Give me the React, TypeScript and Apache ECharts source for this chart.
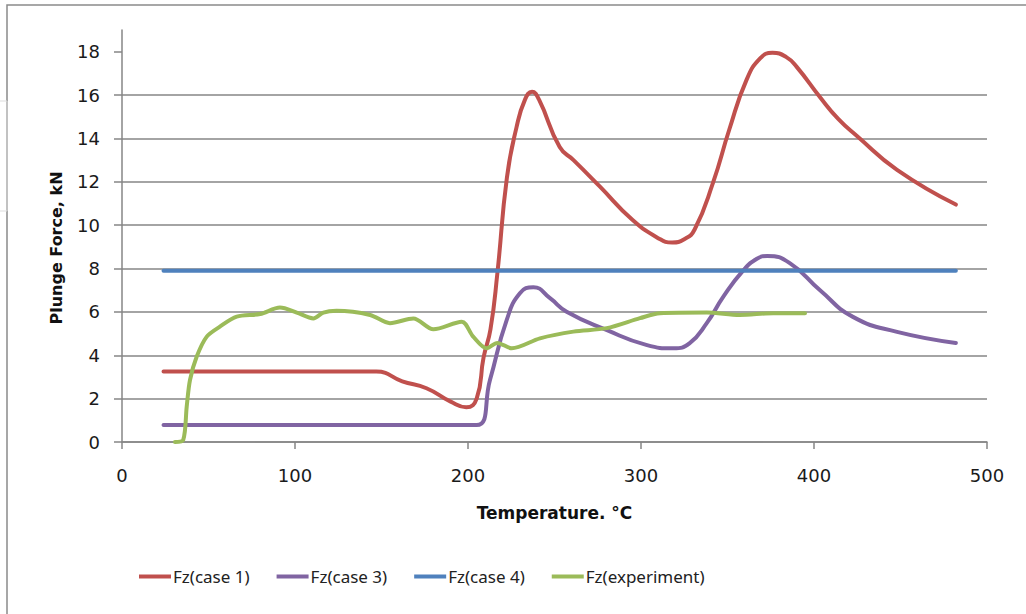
import React, { useEffect, useRef } from "react";
import * as echarts from "echarts";

// Temperature (°C), Plunge force (kN) pairs
const case1: [number, number][] = [
  [24, 3.25], [60, 3.25], [100, 3.25], [147, 3.25], [162, 2.8], [176, 2.48],
  [190, 1.86], [199, 1.6], [205, 2.0], [209, 3.9], [213, 5.2], [217, 7.8],
  [222.5, 12.2], [228, 14.5], [233, 15.8], [237, 16.15], [241, 15.8],
  [253, 13.6], [261, 13.0], [276, 11.8], [295, 10.25], [310, 9.4], [318, 9.2],
  [325, 9.35], [331, 9.8], [341.6, 11.95], [351, 14.4], [361, 16.7], [369, 17.7],
  [376, 17.95], [384, 17.75], [390, 17.3], [403.5, 15.9], [414, 14.9],
  [425, 14.1], [448, 12.55], [482, 10.95],
];

const case3: [number, number][] = [
  [24, 0.78], [100, 0.78], [205, 0.78], [212.7, 2.86], [222.4, 5.63],
  [230, 6.86], [237.8, 7.14], [247.4, 6.63], [257, 6.01], [280, 5.17],
  [303, 4.48], [318.7, 4.32], [328, 4.55], [338, 5.48], [347.6, 6.7],
  [359, 7.9], [367, 8.45], [373, 8.58], [386, 8.25], [403.5, 7.0],
  [422.5, 5.77], [448, 5.08], [482, 4.57],
];

const case4: [number, number][] = [
  [24, 7.9], [482, 7.9],
];

const experiment: [number, number][] = [
  [30.6, 0], [35.4, 0.1], [37.4, 1.63], [39.3, 2.86], [43.2, 3.94], [49, 4.86],
  [56.6, 5.32], [66.3, 5.78], [79.8, 5.9], [91.3, 6.2], [101, 5.97],
  [110.6, 5.7], [116.4, 5.97], [124, 6.05], [143.4, 5.86], [154.9, 5.48],
  [168.4, 5.7], [180, 5.2], [196.4, 5.55], [203, 4.86], [210.8, 4.32],
  [217, 4.57], [225.3, 4.32], [241.6, 4.78], [260.9, 5.09], [280.2, 5.25],
  [299.4, 5.71], [311, 5.94], [338, 5.97], [357, 5.86], [376.5, 5.94],
  [394.8, 5.94],
];

const seriesNames = ["Fz(case 1)", "Fz(case 3)", "Fz(case 4)", "Fz(experiment)"];
const seriesColors = ["#C0504D", "#8064A2", "#4F81BD", "#9BBB59"];
const yTickValues = [0, 2, 4, 6, 8, 10, 12, 14, 16, 18];

export default function App() {
  const ref = useRef<HTMLDivElement>(null);

  useEffect(() => {
    if (!ref.current) return;
    const chart = echarts.init(ref.current, null, { renderer: "svg" });
    const axisGrey = "#868686";
    const tickFont = {
      fontFamily: "DejaVu Sans",
      fontSize: 18,
      color: "#1a1a1a",
    };
    const datasets = [case1, case3, case4, experiment];
    const smoothVals = [0.5, 0.5, 0, 0.3];

    chart.setOption({
      animation: false,
      backgroundColor: "#fff",
      grid: { left: 122, right: 39, top: 30, bottom: 172 },
      xAxis: {
        type: "value",
        min: 0,
        max: 500,
        interval: 100,
        name: "Temperature. °C",
        nameLocation: "middle",
        nameGap: 62,
        nameTextStyle: {
          fontFamily: "DejaVu Sans",
          fontWeight: "bold",
          fontSize: 17,
          color: "#111",
        },
        axisLine: { show: true, lineStyle: { color: axisGrey, width: 1.5 } },
        axisTick: { show: true, length: 7, lineStyle: { color: axisGrey, width: 1.5 } },
        axisLabel: { ...tickFont, margin: 24 },
        splitLine: { show: false },
      },
      yAxis: {
        type: "value",
        min: 0,
        max: 19,
        interval: 2,
        name: "Plunge Force, kN",
        nameLocation: "middle",
        nameGap: 58,
        nameTextStyle: {
          fontFamily: "DejaVu Sans",
          fontWeight: "bold",
          fontSize: 16,
          color: "#111",
          padding: [0, 24, 0, 0],
        },
        axisLine: { show: true, lineStyle: { color: axisGrey, width: 1.5 } },
        axisTick: {
          show: true,
          length: 8,
          customValues: yTickValues,
          lineStyle: { color: axisGrey, width: 1.5 },
        },
        axisLabel: { ...tickFont, margin: 22, customValues: yTickValues },
        splitLine: {
          show: true,
          showMaxLine: false,
          lineStyle: { color: axisGrey, width: 1.5 },
        },
      },
      legend: {
        data: seriesNames,
        left: 139,
        top: 568,
        padding: 0,
        icon: "rect",
        itemWidth: 32,
        itemHeight: 4,
        itemGap: 27,
        textStyle: {
          fontFamily: "Liberation Sans Narrow, Noto Sans",
          fontSize: 17,
          color: "#222",
          padding: [0, 0, 0, -3],
        },
      },
      graphic: [
        {
          type: "rect",
          silent: true,
          z: -10,
          shape: { x: 7, y: 5, width: 1040, height: 640 },
          style: { fill: "none", stroke: "#8a8a8a", lineWidth: 1.5 },
        },
        {
          type: "rect",
          silent: true,
          z: -10,
          shape: { x: -5, y: 101, width: 12, height: 110 },
          style: { fill: "none", stroke: "#dddddd", lineWidth: 1 },
        },
      ],
      series: datasets.map((d, i) => ({
        name: seriesNames[i],
        type: "line",
        data: d,
        smooth: smoothVals[i],
        showSymbol: false,
        symbol: "none",
        color: seriesColors[i],
        lineStyle: { color: seriesColors[i], width: 4, cap: "round", join: "round" },
      })),
    });

    return () => chart.dispose();
  }, []);

  return (
    <div
      ref={ref}
      style={{ position: "fixed", left: 0, top: 0, width: 1026, height: 614 }}
    />
  );
}
